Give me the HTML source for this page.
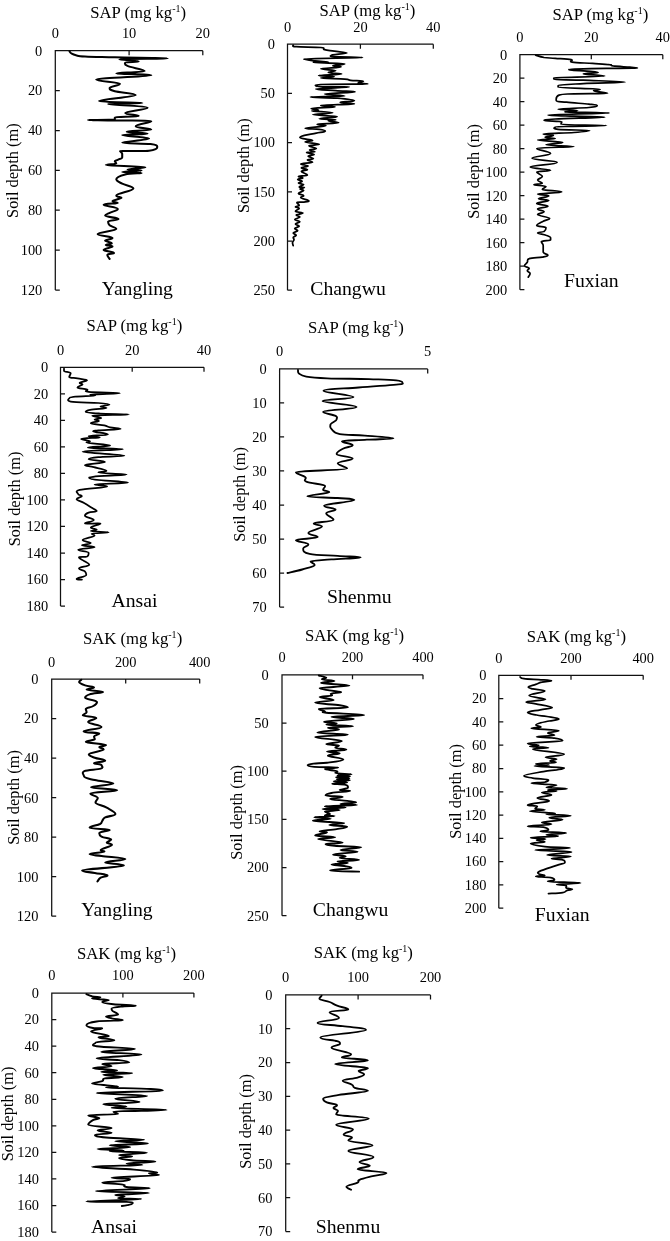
<!DOCTYPE html>
<html><head><meta charset="utf-8"><title>Soil profiles</title>
<style>
html,body{margin:0;padding:0;background:#fff;}
svg{display:block;}
text{font-family:"Liberation Serif","DejaVu Serif",serif;fill:#000;}
.t{font-size:16.7px;}
.l{font-size:16.4px;}
.k{font-size:14.4px;}
.s{font-size:19.7px;}
.ax{stroke:#111;stroke-width:1.25;fill:none;}
.c{stroke:#000;stroke-width:1.9;fill:none;stroke-linejoin:round;stroke-linecap:round;}
</style></head><body>
<svg width="670" height="1241" viewBox="0 0 670 1241">
<rect width="670" height="1241" fill="#fff"/>

<g id="p1">
<path class="ax" d="M202.8,50.7H55.3V290M55.3,50.7v4.5M129.1,50.7v4.5M202.8,50.7v4.5M55.3,50.7h4.5M55.3,90.6h4.5M55.3,130.5h4.5M55.3,170.4h4.5M55.3,210.2h4.5M55.3,250.1h4.5M55.3,290.0h4.5"/>
<text class="k" x="55.3" y="38.3" text-anchor="middle">0</text>
<text class="k" x="129.1" y="38.3" text-anchor="middle">10</text>
<text class="k" x="202.8" y="38.3" text-anchor="middle">20</text>
<text class="k" x="42.3" y="55.5" text-anchor="end">0</text>
<text class="k" x="42.3" y="95.4" text-anchor="end">20</text>
<text class="k" x="42.3" y="135.3" text-anchor="end">40</text>
<text class="k" x="42.3" y="175.2" text-anchor="end">60</text>
<text class="k" x="42.3" y="215.0" text-anchor="end">80</text>
<text class="k" x="42.3" y="254.9" text-anchor="end">100</text>
<text class="k" x="42.3" y="294.8" text-anchor="end">120</text>
<text class="t" x="138.2" y="17.5" text-anchor="middle">SAP (mg kg<tspan font-size="10" dy="-6">-1</tspan><tspan dy="6">)</tspan></text>
<text class="l" transform="translate(18,170.6) rotate(-90)" text-anchor="middle">Soil depth (m)</text>
<text class="s" x="137.3" y="294.6" text-anchor="middle">Yangling</text>
<path class="c" style="stroke-width:2.05" d="M69.6,51.5C70.0,51.9 70.2,52.7 71.5,53.5C72.8,54.3 73.3,54.7 76.0,55.3C78.7,55.9 77.2,56.1 85.0,56.5C92.8,56.9 98.2,56.9 114.8,57.3C131.4,57.7 167.8,58.0 167.8,58.4C167.8,58.8 119.3,58.6 119.3,59.2C119.3,59.8 138.7,60.7 138.7,61.4C138.7,62.1 125.2,61.7 125.2,62.6C125.2,63.5 123.6,64.2 127.5,65.9C131.4,67.6 144.6,69.6 144.6,71.1C144.6,72.6 116.3,72.6 116.3,73.4C116.3,74.2 151.3,74.0 151.3,75.2C151.3,76.4 96.1,77.9 96.1,79.6C96.1,81.3 120.0,82.1 120.0,83.8C120.0,85.5 109.6,86.5 109.6,88.0C109.6,89.5 109.6,89.9 114.8,91.3C120.0,92.7 135.7,93.1 135.7,95.0C135.7,96.9 99.1,99.4 99.1,101.0C99.1,102.6 142.4,102.3 142.4,102.9C142.4,103.5 108.1,103.0 108.1,104.0C108.1,105.0 147.6,105.9 147.6,107.7C147.6,109.5 125.2,111.3 125.2,112.9C125.2,114.5 138.7,115.0 138.7,115.9C138.7,116.8 114.8,116.7 114.8,117.4C114.8,118.1 114.8,119.1 114.8,119.6C114.8,120.1 87.9,119.8 87.9,120.0C87.9,120.2 102.1,120.2 114.8,120.5C127.5,120.8 151.3,120.2 151.3,121.3C151.3,122.4 135.7,124.5 135.7,126.2C135.7,127.9 151.3,128.5 151.3,129.6C151.3,130.7 126.7,130.9 126.7,131.7C126.7,132.5 147.6,133.0 147.6,133.7C147.6,134.4 122.2,134.1 122.2,135.1C122.2,136.1 149.1,137.1 149.1,138.6C149.1,140.1 122.2,141.5 122.2,142.6C122.2,143.7 143.6,143.2 150.6,144.1C157.6,145.0 157.3,145.8 157.3,147.1C157.3,148.4 156.6,150.0 149.1,150.8C141.6,151.6 120.0,150.5 120.0,151.1C120.0,151.7 122.2,152.5 122.2,153.8C122.2,155.1 122.2,156.3 122.2,157.5C122.2,158.7 119.3,159.0 117.8,159.8C116.3,160.6 114.8,160.6 114.8,161.3C114.8,162.0 116.3,162.8 116.3,163.5C116.3,164.2 105.8,164.3 105.8,165.0C105.8,165.7 145.4,166.3 145.4,167.2C145.4,168.1 127.5,168.8 127.5,169.5C127.5,170.2 141.6,170.0 141.6,170.5C141.6,171.0 122.2,171.5 122.2,172.0C122.2,172.5 141.6,172.4 141.6,172.9C141.6,173.4 130.3,173.1 125.2,174.4C120.1,175.7 116.3,177.3 116.3,179.2C116.3,181.1 118.8,181.9 122.2,183.7C125.6,185.5 133.4,186.1 133.4,188.4C133.4,190.7 116.3,193.5 116.3,195.4C116.3,197.3 121.5,196.6 121.5,197.7C121.5,198.8 112.5,200.1 112.5,201.1C112.5,202.1 117.8,202.2 117.8,202.9C117.8,203.6 103.6,203.5 103.6,204.7C103.6,205.9 117.8,207.3 117.8,208.9C117.8,210.5 112.8,211.3 110.3,212.6C107.8,213.9 105.1,214.3 105.1,215.6C105.1,216.9 118.5,217.8 118.5,219.0C118.5,220.2 108.1,220.3 108.1,221.6C108.1,222.9 108.0,223.8 109.6,225.3C111.2,226.8 116.3,227.3 116.3,229.0C116.3,230.7 97.6,232.2 97.6,234.0C97.6,235.8 112.5,236.7 112.5,238.0C112.5,239.3 105.1,239.5 105.1,240.5C105.1,241.5 111.8,242.3 111.8,243.2C111.8,244.1 105.8,244.3 105.8,245.0C105.8,245.7 112.5,245.5 112.5,246.5C112.5,247.5 103.6,248.6 103.6,249.9C103.6,251.2 114.0,251.9 114.0,252.9C114.0,253.9 107.3,253.7 107.3,254.9C107.3,256.1 109.1,258.1 109.6,258.9"/>
</g>
<g id="p2">
<path class="ax" d="M433.3,44.2H287.5V290.2M287.5,44.2v4.5M360.4,44.2v4.5M433.3,44.2v4.5M287.5,44.2h4.5M287.5,93.4h4.5M287.5,142.6h4.5M287.5,191.8h4.5M287.5,241.0h4.5M287.5,290.2h4.5"/>
<text class="k" x="287.5" y="32.2" text-anchor="middle">0</text>
<text class="k" x="360.4" y="32.2" text-anchor="middle">20</text>
<text class="k" x="433.3" y="32.2" text-anchor="middle">40</text>
<text class="k" x="275.0" y="49.0" text-anchor="end">0</text>
<text class="k" x="275.0" y="98.2" text-anchor="end">50</text>
<text class="k" x="275.0" y="147.4" text-anchor="end">100</text>
<text class="k" x="275.0" y="196.6" text-anchor="end">150</text>
<text class="k" x="275.0" y="245.8" text-anchor="end">200</text>
<text class="k" x="275.0" y="295.0" text-anchor="end">250</text>
<text class="t" x="367.4" y="16" text-anchor="middle">SAP (mg kg<tspan font-size="10" dy="-6">-1</tspan><tspan dy="6">)</tspan></text>
<text class="l" transform="translate(249,165.7) rotate(-90)" text-anchor="middle">Soil depth (m)</text>
<text class="s" x="348" y="294.7" text-anchor="middle">Changwu</text>
<path class="c" style="stroke-width:1.75" d="M293.2,45.2C293.8,45.5 290.7,46.3 296.2,46.7C301.7,47.2 315.1,46.9 320.8,47.5C326.5,48.1 321.9,49.0 324.6,49.7C327.2,50.4 329.8,50.5 334.3,51.2C338.7,51.9 346.9,52.3 346.9,53.1C346.9,53.9 331.3,54.5 331.3,55.2C331.3,55.9 328.0,56.2 334.3,56.7C340.5,57.2 362.6,57.2 362.6,57.6C362.6,58.1 303.7,58.3 303.7,59.0C303.7,59.6 309.9,60.3 314.9,60.9C319.8,61.5 328.3,61.8 328.3,62.1C328.3,62.4 313.4,62.0 313.4,62.4C313.4,62.7 344.7,63.2 344.7,63.9C344.7,64.5 332.8,65.1 332.8,65.7C332.8,66.3 341.0,66.2 341.0,66.9C341.0,67.5 320.8,68.1 320.8,68.8C320.8,69.6 335.7,69.9 335.7,70.6C335.7,71.3 328.3,71.9 328.3,72.5C328.3,73.2 341.7,73.4 341.7,74.0C341.7,74.6 318.6,75.0 318.6,75.5C318.6,76.0 334.3,76.1 334.3,76.6C334.3,77.1 320.8,77.6 320.8,78.1C320.8,78.6 338.7,78.7 344.7,79.1C350.7,79.6 346.9,79.9 350.7,80.3C354.4,80.7 363.4,80.8 363.4,81.3C363.4,81.9 358.1,82.5 358.1,83.0C358.1,83.5 367.8,83.6 367.8,83.9C367.8,84.2 330.8,83.9 320.8,84.5C310.8,85.0 317.8,86.1 317.8,86.6C317.8,87.1 349.2,86.5 349.2,87.0C349.2,87.5 315.6,88.2 315.6,89.0C315.6,89.7 327.8,90.1 335.7,90.7C343.7,91.3 355.1,91.3 355.1,91.9C355.1,92.6 324.6,93.2 324.6,94.0C324.6,94.8 344.7,95.4 344.7,96.0C344.7,96.6 310.4,96.6 310.4,97.0C310.4,97.5 328.4,97.5 337.2,98.2C346.0,99.0 354.4,99.9 354.4,100.7C354.4,101.6 340.2,101.8 340.2,102.4C340.2,103.0 354.4,103.3 354.4,103.9C354.4,104.5 320.8,104.8 320.8,105.4C320.8,106.0 335.0,106.3 335.0,106.9C335.0,107.5 311.1,107.7 311.1,108.4C311.1,109.0 318.6,109.6 318.6,110.1C318.6,110.7 311.9,110.4 311.9,110.9C311.9,111.4 332.8,112.1 332.8,112.8C332.8,113.6 312.6,113.9 312.6,114.6C312.6,115.4 337.2,115.9 337.2,116.7C337.2,117.5 319.3,118.1 319.3,118.7C319.3,119.3 335.7,119.3 335.7,119.7C335.7,120.1 328.3,120.1 328.3,120.7C328.3,121.3 338.7,122.0 338.7,122.7C338.7,123.4 317.1,123.6 317.1,124.2C317.1,124.8 326.0,124.9 326.0,125.7C326.0,126.5 305.1,127.5 305.1,128.2C305.1,129.0 315.3,128.8 319.3,129.4C323.4,130.0 325.3,130.4 325.3,131.2C325.3,131.9 320.5,132.3 316.3,133.1C312.2,134.0 307.7,134.5 304.4,135.4C301.1,136.3 299.9,136.9 299.9,137.6C299.9,138.4 303.4,138.5 305.9,139.1C308.4,139.7 312.6,140.0 312.6,140.6C312.6,141.2 305.1,141.3 305.1,142.1C305.1,142.8 319.3,143.6 319.3,144.3C319.3,145.1 308.9,145.0 308.9,145.8C308.9,146.7 316.3,147.7 316.3,148.5C316.3,149.3 309.6,149.3 309.6,150.0C309.6,150.7 314.9,151.3 314.9,151.8C314.9,152.3 306.6,152.0 306.6,152.5C306.6,153.1 314.1,153.7 314.1,154.5C314.1,155.2 308.1,155.5 308.1,156.3C308.1,157.1 313.4,157.8 313.4,158.5C313.4,159.3 307.4,159.3 307.4,160.0C307.4,160.7 312.6,161.4 312.6,162.2C312.6,163.0 300.7,163.3 300.7,164.0C300.7,164.8 308.1,165.2 308.1,166.0C308.1,166.7 301.4,167.2 301.4,167.9C301.4,168.7 307.4,169.0 307.4,169.7C307.4,170.4 301.4,170.4 301.4,171.5C301.4,172.5 307.4,173.9 307.4,174.9C307.4,175.9 298.4,175.8 298.4,176.4C298.4,177.0 302.9,177.3 302.9,177.9C302.9,178.5 297.7,178.7 297.7,179.4C297.7,180.1 302.2,180.6 302.2,181.3C302.2,182.1 298.4,182.5 298.4,183.1C298.4,183.8 303.7,183.9 303.7,184.6C303.7,185.4 299.2,186.3 299.2,186.9C299.2,187.5 304.4,187.2 304.4,187.6C304.4,188.1 299.9,188.5 299.9,189.1C299.9,189.7 303.7,189.6 303.7,190.4C303.7,191.3 298.4,192.4 298.4,193.4C298.4,194.5 303.7,194.8 303.7,195.7C303.7,196.5 300.7,196.6 300.7,197.6C300.7,198.7 308.9,200.0 308.9,200.9C308.9,201.8 305.3,201.7 302.9,202.1C300.5,202.4 296.9,202.0 296.9,202.7C296.9,203.3 299.2,204.5 299.2,205.4C299.2,206.2 295.4,206.3 295.4,206.9C295.4,207.5 299.2,207.5 299.2,208.4C299.2,209.3 295.4,210.4 295.4,211.3C295.4,212.3 302.9,212.4 302.9,213.1C302.9,213.9 296.2,214.3 296.2,215.1C296.2,215.9 299.9,216.1 299.9,217.0C299.9,217.9 294.7,218.6 294.7,219.6C294.7,220.5 299.9,220.9 299.9,221.8C299.9,222.7 295.4,223.1 295.4,224.0C295.4,224.9 299.2,225.4 299.2,226.3C299.2,227.2 294.7,227.6 294.7,228.5C294.7,229.4 297.7,229.9 297.7,230.7C297.7,231.6 293.2,232.1 293.2,233.0C293.2,233.9 296.2,234.3 296.2,235.2C296.2,236.1 293.2,236.6 293.2,237.5C293.2,238.4 294.0,238.7 294.0,239.7C294.0,240.7 292.5,241.5 292.5,242.7C292.5,243.9 293.1,245.1 293.2,245.7"/>
</g>
<g id="p3">
<path class="ax" d="M662.8,54.7H519.9V289.7M519.9,54.7v4.5M591.3,54.7v4.5M662.8,54.7v4.5M519.9,54.7h4.5M519.9,78.2h4.5M519.9,101.7h4.5M519.9,125.2h4.5M519.9,148.7h4.5M519.9,172.2h4.5M519.9,195.7h4.5M519.9,219.2h4.5M519.9,242.7h4.5M519.9,266.2h4.5M519.9,289.7h4.5"/>
<text class="k" x="519.9" y="41.8" text-anchor="middle">0</text>
<text class="k" x="591.3" y="41.8" text-anchor="middle">20</text>
<text class="k" x="662.8" y="41.8" text-anchor="middle">40</text>
<text class="k" x="507.2" y="59.5" text-anchor="end">0</text>
<text class="k" x="507.2" y="83.0" text-anchor="end">20</text>
<text class="k" x="507.2" y="106.5" text-anchor="end">40</text>
<text class="k" x="507.2" y="130.0" text-anchor="end">60</text>
<text class="k" x="507.2" y="153.5" text-anchor="end">80</text>
<text class="k" x="507.2" y="177.0" text-anchor="end">100</text>
<text class="k" x="507.2" y="200.5" text-anchor="end">120</text>
<text class="k" x="507.2" y="224.0" text-anchor="end">140</text>
<text class="k" x="507.2" y="247.5" text-anchor="end">160</text>
<text class="k" x="507.2" y="271.0" text-anchor="end">180</text>
<text class="k" x="507.2" y="294.5" text-anchor="end">200</text>
<text class="t" x="600.3" y="20" text-anchor="middle">SAP (mg kg<tspan font-size="10" dy="-6">-1</tspan><tspan dy="6">)</tspan></text>
<text class="l" transform="translate(479.4,171.4) rotate(-90)" text-anchor="middle">Soil depth (m)</text>
<text class="s" x="591.3" y="287.3" text-anchor="middle">Fuxian</text>
<path class="c" style="stroke-width:1.7" d="M535.7,55.2C537.4,55.7 540.2,56.8 544.1,57.5C548.0,58.1 549.9,57.9 555.3,58.4C560.7,58.8 567.8,59.0 571.2,59.7C574.5,60.4 567.8,61.4 572.1,62.1C576.4,62.9 585.2,62.9 592.6,63.4C600.1,63.9 605.3,64.1 609.4,64.6C613.5,65.0 609.0,65.3 613.1,65.9C617.3,66.4 625.1,66.8 629.9,67.2C634.8,67.6 637.4,67.7 637.4,67.9C637.4,68.1 632.2,68.0 618.7,68.3C605.3,68.5 570.2,68.8 570.2,69.2C570.2,69.6 566.5,69.5 572.1,70.1C577.7,70.8 598.2,71.6 598.2,72.4C598.2,73.1 583.3,73.1 583.3,73.9C583.3,74.6 604.8,75.3 604.8,76.1C604.8,76.9 553.8,77.2 553.8,77.8C553.8,78.4 553.8,78.8 553.8,79.3C553.8,79.8 569.0,79.7 583.3,80.2C597.6,80.8 625.3,81.4 625.3,82.1C625.3,82.8 596.7,82.9 583.3,83.6C569.9,84.3 558.1,84.7 558.1,85.4C558.1,86.2 558.1,86.6 558.1,87.3C558.1,88.1 600.1,88.5 600.1,89.2C600.1,89.9 593.6,89.9 593.6,90.7C593.6,91.5 607.6,92.6 607.6,93.3C607.6,93.9 583.7,93.5 574.0,93.8C564.3,94.2 562.6,93.8 559.0,95.1C555.5,96.5 556.2,99.0 556.2,100.4C556.2,101.8 560.0,101.5 566.5,102.2C573.0,103.0 582.7,103.4 588.9,104.1C595.1,104.8 597.3,104.9 597.3,105.6C597.3,106.3 596.7,106.7 588.9,107.5C581.1,108.2 558.1,108.7 558.1,109.3C558.1,110.0 577.7,110.1 577.7,110.6C577.7,111.2 564.6,111.5 564.6,111.9C564.6,112.4 609.4,112.5 609.4,113.1C609.4,113.7 547.9,114.3 547.9,114.9C547.9,115.6 562.6,115.8 574.0,116.2C585.4,116.7 604.8,116.6 604.8,117.2C604.8,117.7 567.4,118.4 555.3,119.0C543.2,119.7 544.1,120.0 544.1,120.5C544.1,121.1 561.8,121.1 561.8,121.8C561.8,122.6 560.9,123.5 560.9,124.3C560.9,125.0 606.6,125.0 606.6,125.6C606.6,126.1 555.3,126.1 555.3,126.9C555.3,127.6 551.2,128.5 558.1,129.3C565.0,130.0 589.8,130.0 589.8,130.6C589.8,131.2 583.3,131.8 574.0,132.5C564.6,133.1 543.2,133.4 543.2,134.0C543.2,134.6 553.4,134.8 553.4,135.4C553.4,136.1 545.1,136.7 545.1,137.3C545.1,137.9 555.3,138.1 555.3,138.6C555.3,139.2 537.6,139.4 537.6,140.1C537.6,140.9 562.8,141.4 562.8,142.4C562.8,143.3 546.0,143.9 546.0,144.8C546.0,145.6 574.0,145.9 574.0,146.6C574.0,147.4 536.7,147.1 536.7,148.5C536.7,149.9 550.6,151.5 550.6,153.4C550.6,155.4 532.0,156.5 532.0,158.3C532.0,160.1 557.2,160.6 557.2,162.4C557.2,164.1 530.1,165.5 530.1,167.1C530.1,168.6 550.6,169.2 550.6,170.2C550.6,171.2 536.7,170.9 536.7,172.1C536.7,173.3 542.3,174.8 542.3,176.4C542.3,178.0 537.6,178.7 537.6,180.1C537.6,181.5 542.3,182.4 542.3,183.3C542.3,184.2 533.9,184.1 533.9,184.8C533.9,185.4 546.0,185.7 546.0,186.6C546.0,187.6 542.3,188.4 542.3,189.4C542.3,190.5 561.8,190.9 561.8,191.9C561.8,192.8 537.6,193.3 537.6,194.1C537.6,194.9 548.8,195.0 548.8,196.0C548.8,196.9 538.5,197.8 538.5,198.8C538.5,199.7 548.8,199.7 548.8,200.6C548.8,201.6 536.7,202.3 536.7,203.4C536.7,204.6 547.9,205.1 547.9,206.2C547.9,207.4 537.6,207.9 537.6,209.0C537.6,210.1 544.1,210.7 544.1,211.8C544.1,212.9 537.6,213.3 537.6,214.6C537.6,215.9 549.7,217.1 549.7,218.4C549.7,219.7 545.8,219.7 543.2,221.2C540.6,222.6 536.7,224.1 536.7,225.4C536.7,226.8 546.0,226.5 546.0,227.7C546.0,228.9 545.8,230.4 544.1,231.4C542.4,232.5 537.6,232.1 537.6,232.9C537.6,233.7 543.4,234.3 546.0,235.3C548.6,236.2 550.6,236.8 550.6,237.7C550.6,238.6 550.6,239.1 550.6,239.9C550.6,240.7 541.3,240.7 541.3,241.8C541.3,242.9 543.2,243.5 543.2,245.5C543.2,247.6 543.2,250.1 543.2,252.1C543.2,254.0 547.9,254.2 547.9,255.2C547.9,256.2 546.0,256.4 542.3,257.1C538.5,257.8 532.2,257.5 529.2,258.6C526.2,259.6 528.3,260.9 527.3,262.3C526.4,263.7 524.5,264.5 524.5,265.7C524.5,266.9 529.2,267.3 529.2,268.3C529.2,269.3 527.3,269.7 527.3,270.7C527.3,271.8 530.1,272.2 530.1,273.5C530.1,274.8 528.6,276.5 528.3,277.2"/>
</g>
<g id="p4">
<path class="ax" d="M204.0,367.3H60.5V606M60.5,367.3v4.5M132.2,367.3v4.5M204.0,367.3v4.5M60.5,367.3h4.5M60.5,393.8h4.5M60.5,420.3h4.5M60.5,446.9h4.5M60.5,473.4h4.5M60.5,499.9h4.5M60.5,526.4h4.5M60.5,553.0h4.5M60.5,579.5h4.5M60.5,606.0h4.5"/>
<text class="k" x="60.5" y="355.3" text-anchor="middle">0</text>
<text class="k" x="132.2" y="355.3" text-anchor="middle">20</text>
<text class="k" x="204.0" y="355.3" text-anchor="middle">40</text>
<text class="k" x="48.2" y="372.1" text-anchor="end">0</text>
<text class="k" x="48.2" y="398.6" text-anchor="end">20</text>
<text class="k" x="48.2" y="425.1" text-anchor="end">40</text>
<text class="k" x="48.2" y="451.7" text-anchor="end">60</text>
<text class="k" x="48.2" y="478.2" text-anchor="end">80</text>
<text class="k" x="48.2" y="504.7" text-anchor="end">100</text>
<text class="k" x="48.2" y="531.2" text-anchor="end">120</text>
<text class="k" x="48.2" y="557.8" text-anchor="end">140</text>
<text class="k" x="48.2" y="584.3" text-anchor="end">160</text>
<text class="k" x="48.2" y="610.8" text-anchor="end">180</text>
<text class="t" x="134.3" y="330.7" text-anchor="middle">SAP (mg kg<tspan font-size="10" dy="-6">-1</tspan><tspan dy="6">)</tspan></text>
<text class="l" transform="translate(20,499) rotate(-90)" text-anchor="middle">Soil depth (m)</text>
<text class="s" x="134.5" y="607" text-anchor="middle">Ansai</text>
<path class="c" style="stroke-width:1.75" d="M64.0,368.7C64.0,369.2 64.0,370.1 64.0,371.0C64.0,371.9 70.7,372.0 70.7,373.2C70.7,374.4 69.2,375.9 69.2,376.9C69.2,378.0 73.8,377.8 77.4,378.4C81.0,379.1 87.1,379.3 87.1,380.2C87.1,381.1 79.6,382.1 79.6,382.9C79.6,383.7 82.6,383.5 82.6,384.4C82.6,385.3 77.4,386.3 77.4,387.4C77.4,388.4 84.9,388.7 87.1,389.6C89.3,390.5 82.0,391.1 88.6,391.9C95.1,392.6 119.9,392.8 119.9,393.3C119.9,393.9 90.1,394.1 90.1,394.5C90.1,395.0 95.3,395.0 95.3,395.6C95.3,396.2 69.9,396.3 69.9,397.5C69.9,398.7 65.0,400.4 70.7,401.6C76.3,402.7 90.5,402.4 98.3,403.0C106.0,403.6 109.5,403.9 109.5,404.5C109.5,405.2 100.5,405.8 100.5,406.5C100.5,407.2 106.5,407.3 106.5,408.0C106.5,408.6 94.3,409.0 90.1,409.8C85.9,410.6 85.6,411.3 85.6,412.0C85.6,412.7 91.1,413.0 99.8,413.5C108.4,414.0 128.9,414.1 128.9,414.5C128.9,415.0 92.3,415.0 92.3,415.7C92.3,416.4 101.3,417.2 101.3,418.0C101.3,418.7 94.6,418.9 94.6,419.5C94.6,420.1 99.0,420.2 99.0,421.0C99.0,421.7 90.8,422.3 90.8,423.2C90.8,424.1 100.4,424.6 104.3,425.4C108.1,426.3 106.9,426.7 110.2,427.4C113.5,428.1 120.7,428.3 120.7,428.9C120.7,429.5 103.8,429.9 98.3,430.4C92.8,430.9 93.1,430.6 93.1,431.4C93.1,432.2 108.0,433.4 108.0,434.4C108.0,435.3 88.6,435.6 88.6,436.2C88.6,436.8 99.8,436.8 99.8,437.4C99.8,437.9 81.1,438.1 81.1,438.9C81.1,439.6 90.1,440.5 90.1,441.3C90.1,442.0 86.3,441.6 86.3,442.5C86.3,443.3 110.2,444.4 110.2,445.4C110.2,446.5 87.8,446.9 87.8,447.7C87.8,448.4 122.9,448.4 122.9,449.2C122.9,450.0 82.6,450.4 82.6,451.7C82.6,453.0 124.4,454.5 124.4,455.6C124.4,456.7 105.4,456.4 98.3,457.1C91.1,457.8 88.6,458.2 88.6,459.2C88.6,460.1 105.0,460.7 105.0,461.9C105.0,463.1 84.9,464.1 84.9,465.1C84.9,466.2 89.5,466.0 93.8,467.1C98.1,468.2 106.5,469.7 106.5,470.8C106.5,471.9 98.3,471.9 98.3,472.6C98.3,473.4 126.6,473.7 126.6,474.6C126.6,475.4 100.2,475.9 93.1,476.8C85.9,477.7 90.8,477.9 90.8,479.0C90.8,480.2 128.1,481.4 128.1,482.5C128.1,483.6 94.6,483.7 94.6,484.6C94.6,485.4 107.2,485.4 107.2,486.5C107.2,487.6 85.4,488.4 79.6,489.9C73.8,491.4 78.1,492.7 78.1,494.0C78.1,495.2 81.9,495.1 81.9,496.2C81.9,497.2 76.6,497.8 76.6,499.2C76.6,500.5 81.0,501.1 84.1,502.9C87.2,504.7 89.8,506.5 92.3,508.1C94.9,509.8 96.8,510.2 96.8,511.1C96.8,512.0 91.0,511.7 88.6,512.6C86.2,513.5 84.9,514.3 84.9,515.7C84.9,517.2 93.8,518.4 93.8,519.9C93.8,521.4 84.9,522.6 84.9,523.4C84.9,524.1 100.5,523.0 100.5,523.8C100.5,524.6 90.8,526.2 90.8,527.4C90.8,528.6 96.8,528.9 96.8,529.6C96.8,530.4 90.8,530.6 90.8,531.1C90.8,531.7 108.7,531.8 108.7,532.3C108.7,532.8 91.6,533.0 91.6,533.7C91.6,534.3 94.6,534.3 94.6,535.6C94.6,536.9 82.6,538.6 82.6,540.1C82.6,541.6 90.8,542.0 90.8,543.1C90.8,544.1 81.9,544.5 81.9,545.3C81.9,546.1 94.6,546.3 94.6,547.2C94.6,548.1 78.1,548.7 78.1,549.8C78.1,550.9 88.6,551.4 88.6,552.8C88.6,554.1 89.0,555.5 87.1,556.5C85.1,557.4 78.9,556.6 78.9,557.5C78.9,558.4 82.0,559.5 84.1,561.0C86.2,562.4 89.3,563.2 89.3,564.7C89.3,566.2 78.9,567.1 78.9,568.4C78.9,569.8 83.4,570.1 84.9,571.4C86.3,572.8 86.3,573.7 86.3,575.1C86.3,576.6 76.6,578.0 76.6,578.9C76.6,579.8 80.8,579.5 81.9,579.6"/>
</g>
<g id="p5">
<path class="ax" d="M427.7,368.9H279.6V607M279.6,368.9v4.5M427.7,368.9v4.5M279.6,368.9h4.5M279.6,402.9h4.5M279.6,436.9h4.5M279.6,470.9h4.5M279.6,505.0h4.5M279.6,539.0h4.5M279.6,573.0h4.5M279.6,607.0h4.5"/>
<text class="k" x="279.6" y="356.3" text-anchor="middle">0</text>
<text class="k" x="427.7" y="356.3" text-anchor="middle">5</text>
<text class="k" x="266.7" y="373.7" text-anchor="end">0</text>
<text class="k" x="266.7" y="407.7" text-anchor="end">10</text>
<text class="k" x="266.7" y="441.7" text-anchor="end">20</text>
<text class="k" x="266.7" y="475.7" text-anchor="end">30</text>
<text class="k" x="266.7" y="509.8" text-anchor="end">40</text>
<text class="k" x="266.7" y="543.8" text-anchor="end">50</text>
<text class="k" x="266.7" y="577.8" text-anchor="end">60</text>
<text class="k" x="266.7" y="611.8" text-anchor="end">70</text>
<text class="t" x="356" y="332.6" text-anchor="middle">SAP (mg kg<tspan font-size="10" dy="-6">-1</tspan><tspan dy="6">)</tspan></text>
<text class="l" transform="translate(244.6,494.5) rotate(-90)" text-anchor="middle">Soil depth (m)</text>
<text class="s" x="359.3" y="602.6" text-anchor="middle">Shenmu</text>
<path class="c" style="stroke-width:1.85" d="M298.0,369.9C298.2,370.7 297.4,372.2 299.0,373.5C300.7,374.8 300.7,375.7 306.3,376.6C312.0,377.6 314.7,377.8 327.2,378.3C339.8,378.8 355.2,378.7 369.0,379.1C382.8,379.6 389.5,379.6 396.2,380.4C402.9,381.1 402.5,382.1 402.5,382.9C402.5,383.7 405.0,383.6 396.2,384.6C387.4,385.5 373.1,386.2 358.6,387.5C344.0,388.7 323.5,388.9 323.5,390.8C323.5,392.8 353.4,395.1 353.4,397.1C353.4,399.2 322.6,399.1 322.6,401.1C322.6,403.0 356.5,404.8 356.5,406.9C356.5,409.1 323.1,409.9 323.1,411.7C323.1,413.5 332.9,414.4 335.6,415.9C338.3,417.5 336.6,417.7 336.6,419.5C336.6,421.2 330.4,422.8 330.4,424.7C330.4,426.6 329.5,427.0 331.4,428.9C333.3,430.7 333.1,432.8 339.8,434.1C346.5,435.4 354.1,434.7 364.9,435.6C375.6,436.4 393.5,437.4 393.5,438.3C393.5,439.1 377.3,439.1 366.9,439.7C356.6,440.4 341.9,440.3 341.9,441.4C341.9,442.5 352.7,443.7 352.7,445.2C352.7,446.6 346.1,447.0 342.9,448.7C339.7,450.5 336.6,452.0 336.6,453.9C336.6,455.9 352.7,456.7 352.7,458.5C352.7,460.4 337.7,461.3 337.7,463.3C337.7,465.3 347.1,466.8 347.1,468.6C347.1,470.4 295.9,470.6 295.9,472.3C295.9,474.0 303.2,475.2 305.3,477.1C307.4,479.0 302.4,480.0 306.3,481.7C310.3,483.5 325.1,484.3 325.1,485.9C325.1,487.5 323.1,488.4 323.1,489.7C323.1,490.9 329.3,490.8 329.3,492.2C329.3,493.5 307.4,495.2 307.4,496.3C307.4,497.5 328.3,497.3 337.7,498.0C347.1,498.8 354.4,498.6 354.4,500.1C354.4,501.7 324.1,503.9 324.1,505.7C324.1,507.6 335.6,508.0 335.6,509.5C335.6,511.1 326.2,511.4 326.2,513.5C326.2,515.5 333.5,517.7 333.5,519.7C333.5,521.8 313.7,522.1 313.7,523.5C313.7,524.9 322.0,524.8 322.0,526.6C322.0,528.5 308.4,530.8 308.4,532.9C308.4,535.0 317.8,535.6 317.8,537.1C317.8,538.6 295.9,538.8 295.9,540.2C295.9,541.7 308.4,542.7 308.4,544.4C308.4,546.1 303.2,546.7 303.2,548.6C303.2,550.5 302.6,552.3 309.5,553.8C316.4,555.3 327.4,555.2 337.7,555.9C347.9,556.6 360.7,556.6 360.7,557.4C360.7,558.1 341.4,558.6 331.4,559.4C321.4,560.3 310.5,560.5 310.5,561.5C310.5,562.6 314.7,563.3 314.7,564.9C314.7,566.5 307.6,567.8 302.2,569.5C296.7,571.1 290.5,572.3 287.5,573.0"/>
</g>
<g id="p6">
<path class="ax" d="M199.7,679.1H51.7V916.2M51.7,679.1v4.5M125.7,679.1v4.5M199.7,679.1v4.5M51.7,679.1h4.5M51.7,718.6h4.5M51.7,758.1h4.5M51.7,797.7h4.5M51.7,837.2h4.5M51.7,876.7h4.5M51.7,916.2h4.5"/>
<text class="k" x="51.7" y="666.5" text-anchor="middle">0</text>
<text class="k" x="125.7" y="666.5" text-anchor="middle">200</text>
<text class="k" x="199.7" y="666.5" text-anchor="middle">400</text>
<text class="k" x="38.4" y="683.9" text-anchor="end">0</text>
<text class="k" x="38.4" y="723.4" text-anchor="end">20</text>
<text class="k" x="38.4" y="762.9" text-anchor="end">40</text>
<text class="k" x="38.4" y="802.5" text-anchor="end">60</text>
<text class="k" x="38.4" y="842.0" text-anchor="end">80</text>
<text class="k" x="38.4" y="881.5" text-anchor="end">100</text>
<text class="k" x="38.4" y="921.0" text-anchor="end">120</text>
<text class="t" x="132.6" y="644" text-anchor="middle">SAK (mg kg<tspan font-size="10" dy="-6">-1</tspan><tspan dy="6">)</tspan></text>
<text class="l" transform="translate(18.6,797.4) rotate(-90)" text-anchor="middle">Soil depth (m)</text>
<text class="s" x="117" y="915.5" text-anchor="middle">Yangling</text>
<path class="c" style="stroke-width:2.05" d="M81.3,679.8C80.9,680.2 79.1,681.0 79.1,682.1C79.1,683.3 82.1,684.4 85.1,685.4C88.1,686.5 94.0,686.5 94.0,687.4C94.0,688.2 86.6,688.7 86.6,689.6C86.6,690.5 103.0,690.9 103.0,691.9C103.0,692.8 93.1,693.2 89.6,694.4C86.0,695.6 85.1,696.2 85.1,697.7C85.1,699.2 97.0,700.2 97.0,701.9C97.0,703.5 95.5,704.6 93.3,706.0C91.0,707.5 85.8,707.8 85.8,709.0C85.8,710.3 86.6,711.0 86.6,712.3C86.6,713.6 82.8,714.1 82.8,715.3C82.8,716.4 96.3,716.6 96.3,718.0C96.3,719.3 88.1,720.2 88.1,722.0C88.1,723.8 101.5,725.0 101.5,726.9C101.5,728.8 83.6,730.1 83.6,731.4C83.6,732.7 99.3,732.5 99.3,733.5C99.3,734.5 94.0,735.3 94.0,736.5C94.0,737.6 94.8,738.1 94.8,739.2C94.8,740.2 85.8,740.7 85.8,741.9C85.8,743.0 106.0,744.1 106.0,745.1C106.0,746.2 99.3,746.4 99.3,747.2C99.3,748.1 103.7,748.1 103.7,749.5C103.7,750.9 88.8,752.6 88.8,754.3C88.8,755.9 91.5,756.4 94.8,757.7C98.1,759.0 105.2,759.6 105.2,760.7C105.2,761.8 94.0,762.3 94.0,763.2C94.0,764.1 101.5,764.1 101.5,765.1C101.5,766.2 104.2,767.4 100.7,768.6C97.3,769.8 87.7,769.6 84.3,771.1C81.0,772.7 84.0,774.6 84.0,776.3C84.0,778.1 88.9,778.6 94.8,780.1C100.7,781.5 113.4,782.1 113.4,783.5C113.4,784.9 91.0,785.9 91.0,787.2C91.0,788.6 117.2,789.0 117.2,790.2C117.2,791.5 90.3,792.0 90.3,793.5C90.3,795.1 97.8,796.2 97.8,798.0C97.8,799.8 95.5,800.5 95.5,802.5C95.5,804.4 102.7,805.4 106.7,807.7C110.7,810.0 115.4,812.0 115.4,814.0C115.4,815.9 107.9,816.0 105.2,817.4C102.6,818.8 103.3,819.7 102.2,821.0C101.2,822.3 102.5,822.6 100.0,824.0C97.5,825.3 89.6,826.5 89.6,827.7C89.6,828.9 109.7,828.9 109.7,829.9C109.7,831.0 99.3,831.6 99.3,832.9C99.3,834.3 99.1,835.3 101.5,836.6C103.9,838.0 111.2,838.4 111.2,839.6C111.2,840.8 106.7,841.6 106.7,842.6C106.7,843.7 111.9,843.4 111.9,844.9C111.9,846.3 100.7,848.7 100.7,850.1C100.7,851.4 104.5,850.8 104.5,851.6C104.5,852.4 89.6,853.2 89.6,854.1C89.6,855.0 94.3,855.1 101.5,856.0C108.7,857.0 125.4,857.7 125.4,859.0C125.4,860.3 105.2,861.2 105.2,862.5C105.2,863.7 123.9,863.8 123.9,865.4C123.9,867.1 82.1,869.0 82.1,870.5C82.1,872.0 89.7,871.9 94.8,872.9C99.9,873.9 107.5,874.5 107.5,875.4C107.5,876.4 102.7,876.5 100.7,877.7C98.7,878.9 98.1,880.7 97.5,881.4"/>
</g>
<g id="p7">
<path class="ax" d="M423,674.8H282V915.7M282.0,674.8v4.5M352.5,674.8v4.5M423.0,674.8v4.5M282,674.8h4.5M282,723.0h4.5M282,771.2h4.5M282,819.3h4.5M282,867.5h4.5M282,915.7h4.5"/>
<text class="k" x="282.0" y="662.3" text-anchor="middle">0</text>
<text class="k" x="352.5" y="662.3" text-anchor="middle">200</text>
<text class="k" x="423.0" y="662.3" text-anchor="middle">400</text>
<text class="k" x="268.7" y="679.6" text-anchor="end">0</text>
<text class="k" x="268.7" y="727.8" text-anchor="end">50</text>
<text class="k" x="268.7" y="776.0" text-anchor="end">100</text>
<text class="k" x="268.7" y="824.1" text-anchor="end">150</text>
<text class="k" x="268.7" y="872.3" text-anchor="end">200</text>
<text class="k" x="268.7" y="920.5" text-anchor="end">250</text>
<text class="t" x="354.5" y="640.6" text-anchor="middle">SAK (mg kg<tspan font-size="10" dy="-6">-1</tspan><tspan dy="6">)</tspan></text>
<text class="l" transform="translate(242.3,812.4) rotate(-90)" text-anchor="middle">Soil depth (m)</text>
<text class="s" x="350.6" y="916.4" text-anchor="middle">Changwu</text>
<path class="c" d="M318.8,675.5C320.3,675.9 326.3,677.0 326.3,677.7C326.3,678.4 321.8,678.5 321.8,679.2C321.8,679.9 334.5,680.4 334.5,681.1C334.5,681.9 321.0,682.0 321.0,682.9C321.0,683.8 349.4,684.6 349.4,685.6C349.4,686.7 319.6,687.2 319.6,688.1C319.6,689.1 324.9,689.6 329.3,690.4C333.6,691.2 341.2,691.5 341.2,692.2C341.2,692.8 330.7,693.0 330.7,693.7C330.7,694.4 332.2,694.9 332.2,695.6C332.2,696.3 319.6,696.2 319.6,697.1C319.6,698.0 333.7,699.0 333.7,700.1C333.7,701.2 315.1,701.6 315.1,702.6C315.1,703.7 333.1,704.3 339.7,705.3C346.3,706.3 347.9,706.8 347.9,707.6C347.9,708.3 318.8,708.3 318.8,709.0C318.8,709.8 323.3,710.5 324.8,711.3C326.3,712.0 318.4,712.0 326.3,712.8C334.2,713.5 364.3,714.2 364.3,715.0C364.3,715.9 331.5,716.1 331.5,717.0C331.5,717.8 353.9,718.1 353.9,719.0C353.9,720.0 324.0,720.8 324.0,721.7C324.0,722.6 336.7,722.9 336.7,723.5C336.7,724.1 326.3,724.2 326.3,724.7C326.3,725.3 353.1,725.6 353.1,726.2C353.1,726.8 327.8,727.0 327.8,727.7C327.8,728.4 339.0,728.5 339.0,729.5C339.0,730.4 317.3,731.4 317.3,732.5C317.3,733.5 347.9,733.8 347.9,734.7C347.9,735.6 315.1,735.7 315.1,737.0C315.1,738.2 341.9,739.7 341.9,741.1C341.9,742.6 326.3,743.2 326.3,744.1C326.3,745.0 339.0,744.9 339.0,745.6C339.0,746.3 335.2,746.9 335.2,747.8C335.2,748.6 346.4,748.9 346.4,749.7C346.4,750.5 327.0,750.9 327.0,751.6C327.0,752.4 339.7,752.6 339.7,753.4C339.7,754.2 327.8,754.5 327.8,755.7C327.8,756.9 343.4,758.0 343.4,759.4C343.4,760.8 333.0,761.9 327.0,762.7C321.0,763.5 317.5,763.1 313.6,763.6C309.7,764.1 307.6,764.4 307.6,765.1C307.6,765.7 308.2,766.4 314.3,766.9C320.4,767.4 338.2,767.2 338.2,767.6C338.2,768.1 324.8,768.4 324.8,769.1C324.8,769.9 337.5,770.5 337.5,771.3C337.5,772.1 335.2,772.5 335.2,773.1C335.2,773.7 351.6,773.9 351.6,774.3C351.6,774.8 337.5,775.0 337.5,775.4C337.5,775.8 350.1,775.9 350.1,776.3C350.1,776.7 336.0,776.9 336.0,777.3C336.0,777.7 349.4,777.8 349.4,778.2C349.4,778.6 336.7,778.8 336.7,779.3C336.7,779.7 349.9,779.9 349.9,780.3C349.9,780.7 333.7,780.9 333.7,781.3C333.7,781.8 347.2,781.9 347.2,782.4C347.2,782.9 332.2,783.3 332.2,783.7C332.2,784.2 342.5,784.0 345.7,784.8C348.8,785.6 347.9,786.7 347.9,787.8C347.9,788.8 339.7,789.3 339.7,790.0C339.7,790.7 350.1,790.4 350.1,791.0C350.1,791.6 336.4,792.1 331.5,793.0C326.6,793.9 325.5,794.7 325.5,795.5C325.5,796.3 342.7,796.3 342.7,797.0C342.7,797.7 330.0,798.2 330.0,799.0C330.0,799.7 341.9,800.2 347.2,800.9C352.4,801.6 356.1,801.8 356.1,802.4C356.1,803.0 340.4,803.3 340.4,803.9C340.4,804.4 356.9,804.6 356.9,805.1C356.9,805.6 324.8,805.9 324.8,806.4C324.8,806.9 345.7,807.0 345.7,807.5C345.7,808.0 322.5,808.4 322.5,809.0C322.5,809.5 339.7,809.6 339.7,810.1C339.7,810.7 324.8,810.9 324.8,811.6C324.8,812.4 330.0,813.1 330.0,813.9C330.0,814.6 324.8,814.9 324.8,815.4C324.8,815.8 334.5,815.7 334.5,816.1C334.5,816.5 314.3,816.8 314.3,817.3C314.3,817.9 330.7,818.1 330.7,818.8C330.7,819.5 312.8,819.9 312.8,820.7C312.8,821.6 344.2,822.3 344.2,823.1C344.2,824.0 329.3,824.2 329.3,824.9C329.3,825.6 347.2,825.9 347.2,826.7C347.2,827.6 342.2,828.2 336.7,829.1C331.2,830.0 319.6,830.5 319.6,831.2C319.6,831.9 327.0,831.6 327.0,832.4C327.0,833.2 315.1,834.4 315.1,835.4C315.1,836.4 335.2,836.6 335.2,837.3C335.2,838.1 318.1,838.1 318.1,839.1C318.1,840.1 342.7,841.6 342.7,842.5C342.7,843.5 325.5,843.4 325.5,844.0C325.5,844.7 327.3,845.2 334.5,845.8C341.6,846.5 361.3,846.5 361.3,847.3C361.3,848.1 340.4,849.1 340.4,850.0C340.4,850.9 357.6,850.9 357.6,851.8C357.6,852.7 333.0,853.6 333.0,854.5C333.0,855.4 345.7,855.6 345.7,856.3C345.7,857.0 339.7,857.3 339.7,858.1C339.7,858.8 359.1,859.3 359.1,860.0C359.1,860.7 337.5,860.9 337.5,861.5C337.5,862.1 347.9,862.4 347.9,863.0C347.9,863.6 331.5,863.9 331.5,864.5C331.5,865.1 340.1,865.3 344.2,866.0C348.2,866.7 351.6,867.0 351.6,867.9C351.6,868.8 330.0,869.7 330.0,870.4C330.0,871.2 353.3,871.4 359.1,871.6"/>
</g>
<g id="p8">
<path class="ax" d="M643.2,675.3H498.8V908.2M498.8,675.3v4.5M571.0,675.3v4.5M643.2,675.3v4.5M498.8,675.3h4.5M498.8,698.6h4.5M498.8,721.9h4.5M498.8,745.2h4.5M498.8,768.5h4.5M498.8,791.8h4.5M498.8,815.0h4.5M498.8,838.3h4.5M498.8,861.6h4.5M498.8,884.9h4.5M498.8,908.2h4.5"/>
<text class="k" x="498.8" y="662.5" text-anchor="middle">0</text>
<text class="k" x="571.0" y="662.5" text-anchor="middle">200</text>
<text class="k" x="643.2" y="662.5" text-anchor="middle">400</text>
<text class="k" x="486.4" y="680.1" text-anchor="end">0</text>
<text class="k" x="486.4" y="703.4" text-anchor="end">20</text>
<text class="k" x="486.4" y="726.7" text-anchor="end">40</text>
<text class="k" x="486.4" y="750.0" text-anchor="end">60</text>
<text class="k" x="486.4" y="773.3" text-anchor="end">80</text>
<text class="k" x="486.4" y="796.5" text-anchor="end">100</text>
<text class="k" x="486.4" y="819.8" text-anchor="end">120</text>
<text class="k" x="486.4" y="843.1" text-anchor="end">140</text>
<text class="k" x="486.4" y="866.4" text-anchor="end">160</text>
<text class="k" x="486.4" y="889.7" text-anchor="end">180</text>
<text class="k" x="486.4" y="913.0" text-anchor="end">200</text>
<text class="t" x="576.4" y="641.5" text-anchor="middle">SAK (mg kg<tspan font-size="10" dy="-6">-1</tspan><tspan dy="6">)</tspan></text>
<text class="l" transform="translate(461,791.4) rotate(-90)" text-anchor="middle">Soil depth (m)</text>
<text class="s" x="562.2" y="920.6" text-anchor="middle">Fuxian</text>
<path class="c" style="stroke-width:1.75" d="M520.1,677.0C520.9,677.3 520.1,678.2 523.9,678.7C527.6,679.3 533.3,679.3 538.8,679.6C544.3,680.0 551.5,680.2 551.5,680.7C551.5,681.2 544.9,681.4 541.8,682.2C538.6,682.9 538.5,683.4 535.8,684.4C533.1,685.4 528.3,686.2 528.3,687.1C528.3,688.0 529.5,688.1 532.8,688.9C536.1,689.7 544.8,689.8 544.8,691.1C544.8,692.5 529.1,694.0 529.1,695.6C529.1,697.3 545.5,698.1 545.5,699.3C545.5,700.6 526.1,701.1 526.1,702.0C526.1,702.9 530.6,702.7 535.8,703.8C541.0,704.9 552.2,706.4 552.2,707.6C552.2,708.7 545.2,708.8 540.3,709.8C535.4,710.8 527.6,711.4 527.6,712.5C527.6,713.5 532.7,714.2 536.6,715.0C540.4,715.8 542.5,715.7 547.0,716.5C551.5,717.3 558.9,718.1 558.9,719.0C558.9,719.9 553.0,720.2 549.2,721.0C545.5,721.8 543.0,722.1 540.3,722.9C537.6,723.7 535.8,724.2 535.8,725.0C535.8,725.8 541.0,726.3 541.0,727.0C541.0,727.6 531.3,727.7 531.3,728.4C531.3,729.2 558.9,729.8 558.9,730.7C558.9,731.6 547.7,732.0 547.7,732.9C547.7,733.8 554.5,734.4 554.5,735.2C554.5,735.9 536.6,736.1 536.6,736.7C536.6,737.3 548.5,737.3 553.7,738.1C558.9,739.0 562.7,739.6 562.7,740.7C562.7,741.7 527.6,742.4 527.6,743.4C527.6,744.3 538.8,744.7 538.8,745.3C538.8,745.9 529.8,745.9 529.8,746.4C529.8,746.8 548.5,747.2 548.5,747.8C548.5,748.3 532.8,748.0 532.8,749.3C532.8,750.5 564.2,752.6 564.2,754.2C564.2,755.8 545.5,756.2 545.5,757.2C545.5,758.1 556.7,758.4 556.7,759.1C556.7,759.9 550.0,760.2 550.0,760.9C550.0,761.6 556.0,761.8 556.0,762.4C556.0,763.0 535.8,763.3 535.8,763.9C535.8,764.4 549.2,764.6 549.2,765.1C549.2,765.5 534.3,765.6 534.3,766.1C534.3,766.7 564.2,767.2 564.2,767.9C564.2,768.7 560.9,769.1 556.7,769.9C552.5,770.6 549.8,770.4 543.3,771.6C536.7,772.8 523.9,774.5 523.9,775.8C523.9,777.1 527.9,777.2 532.8,778.1C537.7,778.9 548.5,779.2 548.5,780.0C548.5,780.8 548.2,781.4 544.8,782.1C541.3,782.7 531.3,782.7 531.3,783.3C531.3,783.9 556.7,784.2 556.7,785.1C556.7,785.9 546.3,786.7 546.3,787.5C546.3,788.2 567.1,788.1 567.1,788.7C567.1,789.2 547.7,789.5 547.7,790.0C547.7,790.5 556.7,790.5 556.7,791.0C556.7,791.6 541.8,791.8 541.8,792.5C541.8,793.3 551.5,793.9 551.5,794.9C551.5,796.0 537.3,796.7 537.3,797.9C537.3,799.1 549.2,799.8 549.2,800.9C549.2,802.0 538.6,802.6 534.3,803.4C530.0,804.3 527.6,804.6 527.6,805.2C527.6,805.8 537.3,805.7 537.3,806.4C537.3,807.1 535.1,808.0 535.1,808.7C535.1,809.3 544.8,809.2 544.8,809.7C544.8,810.2 529.8,810.4 529.8,811.2C529.8,811.9 555.2,812.8 555.2,813.4C555.2,814.1 546.3,813.9 546.3,814.3C546.3,814.8 570.9,815.2 570.9,815.8C570.9,816.5 549.2,816.9 549.2,817.7C549.2,818.5 562.7,818.8 562.7,819.8C562.7,820.7 541.8,821.6 541.8,822.4C541.8,823.3 551.5,823.5 551.5,824.2C551.5,825.0 527.6,825.6 527.6,826.2C527.6,826.8 539.1,826.5 543.3,827.2C547.4,828.0 548.5,829.1 548.5,829.9C548.5,830.7 540.3,830.8 540.3,831.4C540.3,832.0 566.4,832.2 566.4,832.9C566.4,833.6 546.3,834.0 546.3,834.7C546.3,835.3 558.2,835.6 558.2,836.2C558.2,836.8 530.6,837.1 530.6,837.7C530.6,838.2 545.5,838.4 545.5,838.9C545.5,839.3 536.6,839.5 536.6,840.1C536.6,840.7 544.8,841.1 544.8,841.9C544.8,842.6 530.6,842.7 530.6,843.6C530.6,844.6 536.9,845.7 544.8,846.6C552.7,847.5 570.1,847.4 570.1,848.1C570.1,848.8 535.1,849.3 535.1,850.1C535.1,850.8 571.6,851.0 571.6,852.0C571.6,853.0 547.0,854.1 547.0,855.0C547.0,855.9 570.9,855.8 570.9,856.5C570.9,857.2 551.5,857.9 551.5,858.6C551.5,859.2 560.0,859.0 562.7,859.8C565.4,860.5 564.9,861.3 564.9,862.4C564.9,863.6 561.8,863.6 556.7,865.4C551.6,867.2 543.1,869.7 539.5,871.4C536.0,873.1 538.8,873.1 538.8,873.9C538.8,874.7 544.8,874.9 544.8,875.4C544.8,875.9 535.8,876.0 535.8,876.5C535.8,876.9 547.0,877.0 550.7,877.7C554.5,878.4 554.5,879.2 554.5,879.9C554.5,880.7 547.7,880.8 547.7,881.4C547.7,882.0 580.6,882.4 580.6,883.0C580.6,883.6 556.7,883.9 556.7,884.4C556.7,884.9 563.7,884.7 565.7,885.4C567.6,886.2 565.1,887.3 566.4,888.1C567.7,888.9 572.4,888.9 572.4,889.3C572.4,889.8 569.1,889.7 567.1,890.4C565.2,891.0 566.4,891.9 562.7,892.6C558.9,893.3 551.3,893.4 548.5,893.6"/>
</g>
<g id="p9">
<path class="ax" d="M193.9,993.1H51.8V1232M51.8,993.1v4.5M122.9,993.1v4.5M193.9,993.1v4.5M51.8,993.1h4.5M51.8,1019.6h4.5M51.8,1046.2h4.5M51.8,1072.7h4.5M51.8,1099.3h4.5M51.8,1125.8h4.5M51.8,1152.4h4.5M51.8,1178.9h4.5M51.8,1205.5h4.5M51.8,1232.0h4.5"/>
<text class="k" x="51.8" y="980" text-anchor="middle">0</text>
<text class="k" x="122.9" y="980" text-anchor="middle">100</text>
<text class="k" x="193.9" y="980" text-anchor="middle">200</text>
<text class="k" x="38.9" y="997.9" text-anchor="end">0</text>
<text class="k" x="38.9" y="1024.4" text-anchor="end">20</text>
<text class="k" x="38.9" y="1051.0" text-anchor="end">40</text>
<text class="k" x="38.9" y="1077.5" text-anchor="end">60</text>
<text class="k" x="38.9" y="1104.1" text-anchor="end">80</text>
<text class="k" x="38.9" y="1130.6" text-anchor="end">100</text>
<text class="k" x="38.9" y="1157.2" text-anchor="end">120</text>
<text class="k" x="38.9" y="1183.7" text-anchor="end">140</text>
<text class="k" x="38.9" y="1210.3" text-anchor="end">160</text>
<text class="k" x="38.9" y="1236.8" text-anchor="end">180</text>
<text class="t" x="126.5" y="959" text-anchor="middle">SAK (mg kg<tspan font-size="10" dy="-6">-1</tspan><tspan dy="6">)</tspan></text>
<text class="l" transform="translate(12.6,1114) rotate(-90)" text-anchor="middle">Soil depth (m)</text>
<text class="s" x="114" y="1232.5" text-anchor="middle">Ansai</text>
<path class="c" d="M86.4,994.1C87.5,994.5 89.2,995.7 92.0,996.3C94.8,997.0 100.4,996.8 100.4,997.3C100.4,997.7 92.0,998.0 92.0,998.6C92.0,999.1 108.8,999.4 108.8,1000.1C108.8,1000.7 102.2,1001.1 102.2,1001.9C102.2,1002.7 106.7,1003.4 113.4,1004.2C120.1,1004.9 135.8,1005.2 135.8,1005.7C135.8,1006.1 125.7,1006.0 120.9,1006.6C116.0,1007.1 111.6,1007.6 111.6,1008.5C111.6,1009.3 111.2,1009.6 112.5,1010.9C113.8,1012.1 118.1,1013.5 118.1,1014.6C118.1,1015.7 106.0,1015.7 106.0,1016.5C106.0,1017.2 108.2,1017.6 111.6,1018.3C114.9,1019.1 122.8,1019.6 122.8,1020.2C122.8,1020.8 103.9,1020.5 96.6,1021.5C89.4,1022.5 86.4,1023.9 86.4,1025.2C86.4,1026.6 89.7,1027.4 92.9,1028.0C96.1,1028.7 102.2,1027.7 102.2,1028.4C102.2,1029.1 91.0,1029.9 91.0,1031.4C91.0,1032.9 108.8,1034.7 108.8,1035.9C108.8,1037.1 98.5,1036.5 98.5,1037.4C98.5,1038.2 114.4,1039.1 114.4,1040.2C114.4,1041.2 95.7,1041.4 95.7,1042.6C95.7,1043.8 88.8,1045.1 96.6,1046.3C104.5,1047.6 134.9,1047.8 134.9,1048.9C134.9,1050.1 101.3,1050.8 101.3,1051.9C101.3,1053.0 141.4,1053.3 141.4,1054.5C141.4,1055.8 96.6,1057.1 96.6,1058.3C96.6,1059.4 112.5,1059.3 119.0,1060.1C125.6,1061.0 129.3,1061.8 129.3,1062.6C129.3,1063.3 102.2,1063.1 102.2,1063.9C102.2,1064.6 111.6,1065.4 111.6,1066.3C111.6,1067.1 92.9,1067.3 92.9,1068.2C92.9,1069.0 117.2,1069.6 117.2,1070.4C117.2,1071.1 101.3,1071.3 101.3,1071.9C101.3,1072.4 132.1,1072.6 132.1,1073.2C132.1,1073.8 103.2,1073.9 103.2,1074.7C103.2,1075.5 122.8,1076.4 122.8,1077.1C122.8,1077.9 109.1,1077.6 105.0,1078.4C100.9,1079.2 104.9,1080.2 102.2,1081.2C99.6,1082.3 92.0,1082.6 92.0,1083.6C92.0,1084.7 118.1,1085.8 118.1,1086.5C118.1,1087.3 106.0,1087.0 106.0,1087.5C106.0,1087.9 139.4,1088.3 150.7,1089.0C162.1,1089.6 162.9,1090.0 162.9,1090.8C162.9,1091.6 96.6,1092.1 96.6,1093.1C96.6,1094.1 147.0,1094.7 147.0,1095.9C147.0,1097.0 115.3,1097.4 115.3,1098.7C115.3,1099.9 139.6,1100.9 139.6,1102.0C139.6,1103.1 103.2,1103.4 103.2,1104.3C103.2,1105.1 126.5,1105.7 126.5,1106.5C126.5,1107.2 111.6,1107.3 111.6,1108.0C111.6,1108.7 166.6,1109.1 166.6,1109.9C166.6,1110.6 113.4,1110.9 113.4,1111.7C113.4,1112.5 118.1,1113.2 118.1,1114.0C118.1,1114.7 88.2,1114.6 88.2,1115.4C88.2,1116.3 99.4,1117.3 99.4,1118.2C99.4,1119.2 95.1,1118.8 92.9,1120.1C90.7,1121.4 88.2,1123.2 88.2,1124.8C88.2,1126.4 111.6,1127.0 111.6,1128.1C111.6,1129.3 97.6,1129.4 97.6,1130.4C97.6,1131.3 111.6,1131.9 111.6,1132.8C111.6,1133.7 94.8,1134.1 94.8,1135.0C94.8,1136.0 96.1,1136.5 106.0,1137.5C115.9,1138.4 144.2,1139.0 144.2,1139.7C144.2,1140.4 115.3,1140.4 115.3,1141.2C115.3,1141.9 147.9,1142.6 147.9,1143.4C147.9,1144.3 109.7,1144.6 109.7,1145.3C109.7,1146.0 130.2,1146.4 130.2,1147.2C130.2,1147.9 97.6,1148.4 97.6,1149.0C97.6,1149.7 123.7,1150.1 123.7,1150.5C123.7,1151.0 109.7,1150.8 109.7,1151.3C109.7,1151.7 147.0,1152.0 147.0,1152.8C147.0,1153.5 119.0,1154.3 119.0,1155.0C119.0,1155.7 132.1,1155.9 132.1,1156.5C132.1,1157.1 119.0,1157.2 119.0,1158.0C119.0,1158.7 123.9,1159.5 131.2,1160.2C138.4,1161.0 155.4,1161.1 155.4,1161.7C155.4,1162.4 126.5,1162.8 126.5,1163.4C126.5,1164.0 142.4,1164.2 142.4,1164.9C142.4,1165.6 92.0,1165.8 92.0,1166.8C92.0,1167.7 120.9,1168.4 134.0,1169.6C147.0,1170.7 157.3,1171.6 157.3,1172.4C157.3,1173.1 148.9,1172.7 148.9,1173.3C148.9,1173.8 159.1,1174.3 159.1,1175.1C159.1,1176.0 111.6,1176.9 111.6,1177.7C111.6,1178.5 130.2,1178.4 130.2,1179.0C130.2,1179.6 130.2,1180.1 124.6,1180.9C119.0,1181.6 102.2,1182.0 102.2,1182.7C102.2,1183.5 117.9,1183.7 122.8,1184.6C127.6,1185.4 121.1,1186.3 126.5,1187.0C131.9,1187.8 149.8,1187.5 149.8,1188.3C149.8,1189.1 95.7,1190.2 95.7,1191.1C95.7,1192.1 148.9,1192.2 148.9,1193.0C148.9,1193.7 115.3,1194.2 115.3,1194.9C115.3,1195.5 124.6,1195.7 124.6,1196.3C124.6,1197.0 118.1,1197.6 118.1,1198.2C118.1,1198.8 141.4,1198.5 141.4,1199.1C141.4,1199.8 86.4,1200.8 86.4,1201.4C86.4,1201.9 117.4,1201.5 126.5,1201.9C135.6,1202.4 132.1,1203.2 132.1,1203.8C132.1,1204.4 129.5,1204.7 127.4,1205.1C125.4,1205.6 122.9,1205.9 121.8,1206.0"/>
</g>
<g id="p10">
<path class="ax" d="M430.5,994.9H285.7V1231.5M285.7,994.9v4.5M358.1,994.9v4.5M430.5,994.9v4.5M285.7,994.9h4.5M285.7,1028.7h4.5M285.7,1062.5h4.5M285.7,1096.3h4.5M285.7,1130.1h4.5M285.7,1163.9h4.5M285.7,1197.7h4.5M285.7,1231.5h4.5"/>
<text class="k" x="285.7" y="981.9" text-anchor="middle">0</text>
<text class="k" x="358.1" y="981.9" text-anchor="middle">100</text>
<text class="k" x="430.5" y="981.9" text-anchor="middle">200</text>
<text class="k" x="272.5" y="999.7" text-anchor="end">0</text>
<text class="k" x="272.5" y="1033.5" text-anchor="end">10</text>
<text class="k" x="272.5" y="1067.3" text-anchor="end">20</text>
<text class="k" x="272.5" y="1101.1" text-anchor="end">30</text>
<text class="k" x="272.5" y="1134.9" text-anchor="end">40</text>
<text class="k" x="272.5" y="1168.7" text-anchor="end">50</text>
<text class="k" x="272.5" y="1202.5" text-anchor="end">60</text>
<text class="k" x="272.5" y="1236.3" text-anchor="end">70</text>
<text class="t" x="363.3" y="958.3" text-anchor="middle">SAK (mg kg<tspan font-size="10" dy="-6">-1</tspan><tspan dy="6">)</tspan></text>
<text class="l" transform="translate(251.3,1121.5) rotate(-90)" text-anchor="middle">Soil depth (m)</text>
<text class="s" x="348" y="1233.2" text-anchor="middle">Shenmu</text>
<path class="c" style="stroke-width:1.85" d="M321.6,995.8C321.2,996.4 319.4,997.6 319.4,998.8C319.4,1000.1 326.1,1000.6 329.6,1002.0C333.2,1003.4 333.4,1004.2 337.1,1005.7C340.8,1007.2 348.3,1008.1 348.3,1009.5C348.3,1010.8 329.6,1010.6 329.6,1012.3C329.6,1013.9 339.0,1015.7 339.0,1017.9C339.0,1020.0 317.5,1021.2 317.5,1022.9C317.5,1024.6 333.0,1024.8 342.7,1026.2C352.4,1027.7 366.0,1027.7 366.0,1030.0C366.0,1032.2 320.3,1035.2 320.3,1037.4C320.3,1039.7 333.2,1039.9 337.1,1041.2C341.0,1042.5 339.9,1042.7 339.9,1044.0C339.9,1045.3 331.5,1045.6 331.5,1047.7C331.5,1049.8 351.1,1052.3 351.1,1054.2C351.1,1056.2 341.8,1056.2 341.8,1057.4C341.8,1058.6 367.9,1059.0 367.9,1060.4C367.9,1061.7 335.2,1062.6 335.2,1064.1C335.2,1065.7 367.9,1066.8 367.9,1068.2C367.9,1069.6 358.6,1069.8 358.6,1071.0C358.6,1072.2 364.2,1072.9 364.2,1074.2C364.2,1075.5 361.9,1076.2 357.6,1077.6C353.3,1078.9 342.7,1079.3 342.7,1080.7C342.7,1082.1 349.6,1083.2 352.0,1084.7C354.5,1086.1 351.7,1086.6 354.8,1087.8C358.0,1089.1 367.9,1089.4 367.9,1090.8C367.9,1092.2 347.9,1093.4 339.0,1094.9C330.0,1096.5 323.1,1097.2 323.1,1098.7C323.1,1100.1 324.0,1101.1 326.8,1102.4C329.6,1103.7 337.1,1104.1 337.1,1105.2C337.1,1106.3 333.4,1106.9 333.4,1108.0C333.4,1109.1 338.0,1109.5 338.0,1110.8C338.0,1112.1 336.2,1112.9 336.2,1114.5C336.2,1116.1 368.8,1116.6 368.8,1118.6C368.8,1120.7 336.2,1122.6 336.2,1124.8C336.2,1126.9 353.0,1127.5 353.0,1129.4C353.0,1131.4 343.6,1132.9 343.6,1134.5C343.6,1136.1 352.0,1136.2 352.0,1137.5C352.0,1138.7 348.3,1139.1 348.3,1140.6C348.3,1142.2 372.6,1143.2 372.6,1145.3C372.6,1147.4 348.3,1148.6 348.3,1150.9C348.3,1153.2 373.5,1154.6 373.5,1156.9C373.5,1159.1 359.5,1160.3 359.5,1162.1C359.5,1163.9 369.8,1164.4 369.8,1165.8C369.8,1167.2 357.6,1167.8 357.6,1169.2C357.6,1170.6 386.5,1171.5 386.5,1172.9C386.5,1174.3 378.0,1174.7 372.6,1176.1C367.1,1177.5 362.5,1178.5 359.5,1179.8C356.5,1181.1 360.2,1181.2 357.6,1182.6C355.0,1184.0 346.4,1185.3 346.4,1186.7C346.4,1188.1 350.2,1189.1 351.1,1189.7"/>
</g>
</svg></body></html>
